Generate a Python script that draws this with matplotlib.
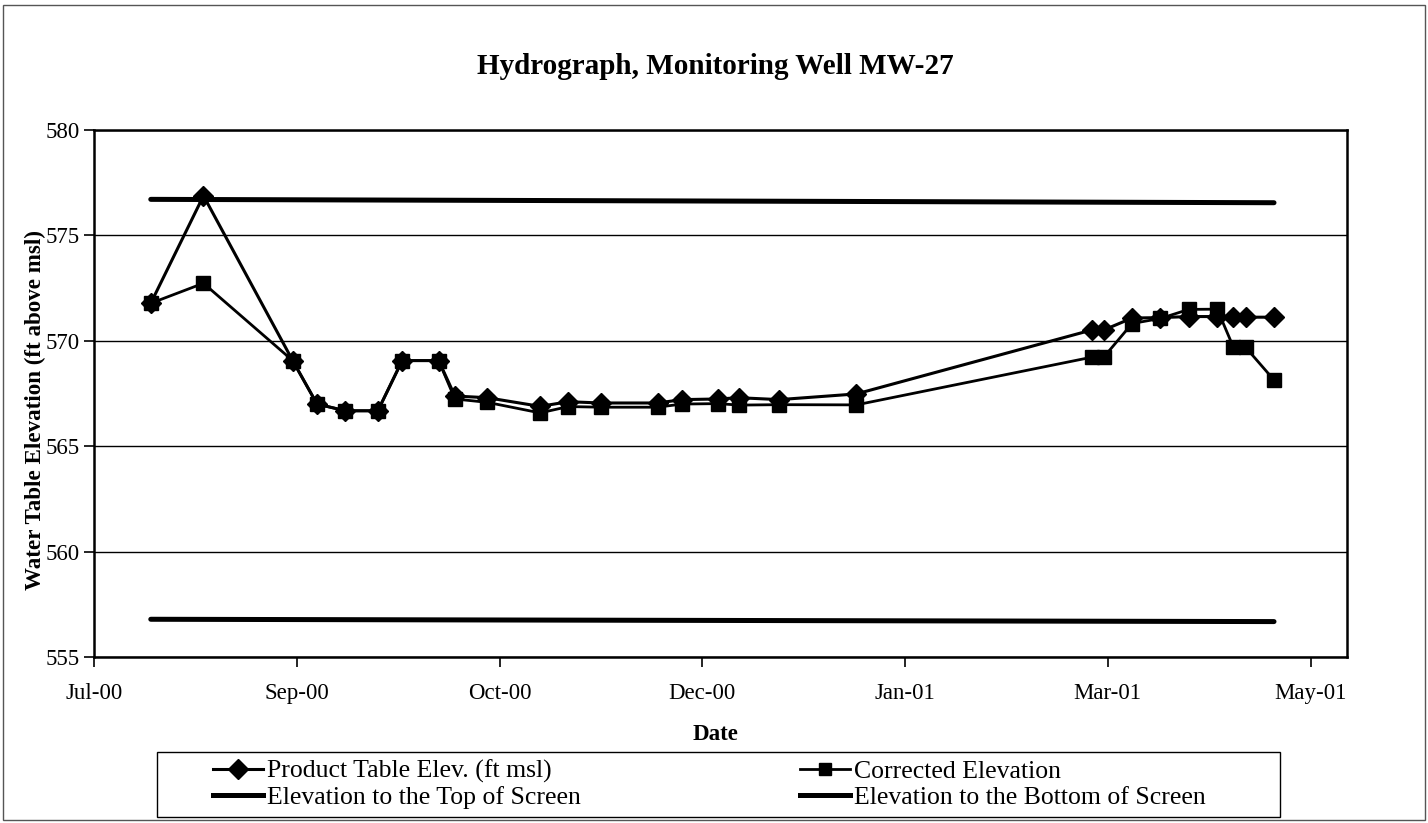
import matplotlib
matplotlib.use("Agg")
import matplotlib.pyplot as plt
import matplotlib.dates as mdates
from matplotlib.patches import Rectangle
from matplotlib.lines import Line2D
import numpy as np

plt.rcParams['font.family'] = ['Liberation Serif', 'DejaVu Serif']

# Monitoring data, MW-27
sample_dates = [
    "2000-07-27", "2000-08-09", "2000-08-31", "2000-09-06", "2000-09-13",
    "2000-09-21", "2000-09-27", "2000-10-06", "2000-10-10", "2000-10-18",
    "2000-10-31", "2000-11-07", "2000-11-15", "2000-11-29", "2000-12-05",
    "2000-12-14", "2000-12-19", "2000-12-29", "2001-01-17", "2001-03-16",
    "2001-03-19", "2001-03-26", "2001-04-02", "2001-04-09", "2001-04-16",
    "2001-04-20", "2001-04-23", "2001-04-30",
]
product_elev = [
    571.78, 576.88, 569.06, 567.00, 566.68, 566.68, 569.06, 569.06, 567.38,
    567.30, 566.89, 567.11, 567.05, 567.05, 567.21, 567.24, 567.30, 567.21,
    567.48, 570.51, 570.51, 571.08, 571.10, 571.15, 571.15, 571.12, 571.12,
    571.12,
]
corrected_elev = [
    571.78, 572.73, 569.06, 567.00, 566.68, 566.68, 569.06, 569.06, 567.24,
    567.08, 566.58, 566.88, 566.85, 566.85, 567.00, 567.02, 566.95, 566.97,
    566.96, 569.22, 569.22, 570.82, 571.06, 571.49, 571.50, 569.69, 569.69,
    568.14,
]
screen_dates = ["2000-07-27", "2001-04-30"]
screen_top = [576.71, 576.55]
screen_bottom = [556.79, 556.68]

axis_start = "2000-07-13"
axis_end = "2001-05-18"
tick_step_days = 50
y_ticks = [555, 560, 565, 570, 575, 580]

legend_labels = [
    "Product Table Elev. (ft msl)", "Corrected Elevation",
    "Elevation to the Top of Screen", "Elevation to the Bottom of Screen",
]

W, H = 1428, 823
fig = plt.figure(figsize=(W / 100, H / 100), dpi=100)
ax = fig.add_axes([94 / W, 1 - 657 / H, (1347 - 94) / W, (657 - 130) / H])

x = mdates.datestr2num(sample_dates)
xs = mdates.datestr2num(screen_dates)

ax.plot(xs, screen_top, color='black', lw=3.6, solid_capstyle='round', zorder=3)
ax.plot(xs, screen_bottom, color='black', lw=3.6, solid_capstyle='round', zorder=3)
ax.plot(x, product_elev, color='black', lw=2.2, marker='D', ms=10,
        markerfacecolor='black', markeredgecolor='black', zorder=4)
ax.plot(x, corrected_elev, color='black', lw=2.0, marker='s', ms=10,
        markerfacecolor='black', markeredgecolor='black', zorder=5)

x0 = mdates.datestr2num(axis_start)
x1 = mdates.datestr2num(axis_end)
ax.set_xlim(x0, x1)
ticks = np.arange(x0, x1 + 0.5, tick_step_days)
ax.set_xticks(ticks)
ax.xaxis.set_major_formatter(mdates.DateFormatter('%b-%y'))

ax.set_ylim(y_ticks[0], y_ticks[-1])
ax.set_yticks(y_ticks)
ax.yaxis.grid(True, color='black', lw=1.0)
ax.set_axisbelow(True)

for s in ax.spines.values():
    s.set_linewidth(1.8)
    s.set_color('black')
ax.tick_params(axis='both', direction='out', length=7, width=1.2,
               labelsize=16.5, colors='black')
ax.tick_params(axis='x', pad=12)
ax.tick_params(axis='y', pad=3)

fig.text(715 / W, 1 - 67 / H, "Hydrograph, Monitoring Well MW-27",
         ha='center', va='center', fontsize=21, fontweight='bold')
fig.text(715 / W, 1 - 735 / H, "Date", ha='center', va='center',
         fontsize=16.5, fontweight='bold')
fig.text(35 / W, 1 - 410 / H, "Water Table Elevation (ft above msl)",
         ha='center', va='center', rotation=90, fontsize=16.6, fontweight='bold')

# Legend: two columns, each placed at its own anchor
handles = [
    Line2D([], [], color='black', lw=2.2, marker='D', ms=10),
    Line2D([], [], color='black', lw=2.0, marker='s', ms=9),
    Line2D([], [], color='black', lw=3.6),
    Line2D([], [], color='black', lw=3.6),
]
leg_fs = 18.5
common = dict(loc='upper left', ncol=1, frameon=False, fontsize=leg_fs,
              handlelength=1.95, handletextpad=0.15, labelspacing=0.1,
              borderpad=0, borderaxespad=0)
leg1 = fig.legend([handles[0], handles[2]], [legend_labels[0], legend_labels[2]],
                  bbox_to_anchor=(213 / W, 1 - 760 / H), **common)
leg2 = fig.legend([handles[1], handles[3]], [legend_labels[1], legend_labels[3]],
                  bbox_to_anchor=(800 / W, 1 - 760 / H), **common)
fig.patches.append(Rectangle((157 / W, 1 - 817 / H), (1280 - 157) / W, (817 - 752) / H,
                             transform=fig.transFigure, fill=False,
                             edgecolor='black', lw=1.0))
# Outer chart border
fig.patches.append(Rectangle((3 / W, 3 / H), (W - 6) / W, (H - 8) / H,
                             transform=fig.transFigure, fill=False,
                             edgecolor='#555555', lw=1.0))

fig.savefig("out.png", dpi=100)
